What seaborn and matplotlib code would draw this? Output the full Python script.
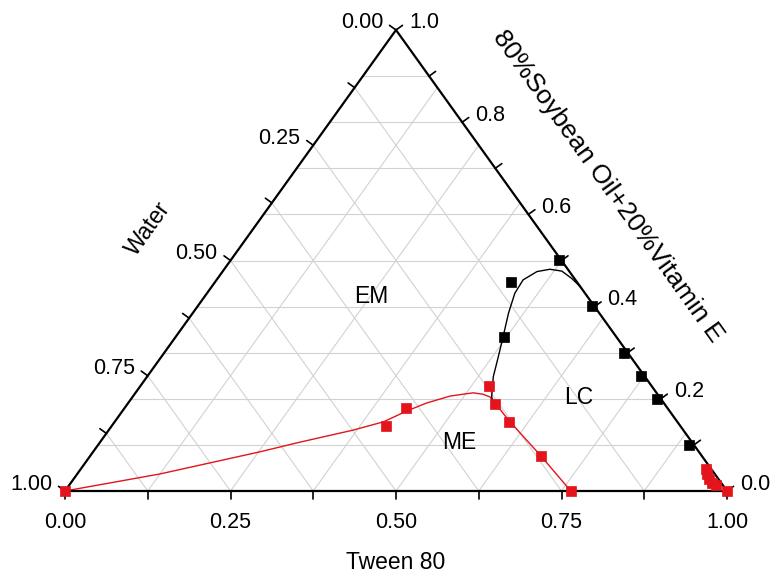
import numpy as np
import pandas as pd
import matplotlib
matplotlib.use("Agg")
import matplotlib.pyplot as plt
import seaborn as sns

# Phase-boundary compositions (mass fractions): Tween 80, oil phase, water
black_tween = [0.495, 0.595, 0.695, 0.745, 0.795, 0.893, 0.447, 0.496]
black_oil = [0.502, 0.402, 0.300, 0.250, 0.200, 0.100, 0.454, 0.333]

red_tween = [0.000, 0.415, 0.424, 0.526, 0.555, 0.596, 0.681, 0.765,
             0.944, 0.951, 0.960, 0.969, 0.977, 1.000]
red_oil = [0.000, 0.140, 0.181, 0.228, 0.188, 0.150, 0.076, 0.000,
           0.048, 0.037, 0.026, 0.017, 0.013, 0.000]

# Fitted boundary of the microemulsion (ME) region
me_curve_tween = [0.000, 0.125, 0.252, 0.302, 0.369, 0.406, 0.430, 0.451,
                  0.479, 0.510, 0.526, 0.540, 0.554, 0.595, 0.681, 0.764]
me_curve_oil = [0.000, 0.037, 0.085, 0.106, 0.132, 0.150, 0.174, 0.191,
                0.206, 0.213, 0.210, 0.204, 0.191, 0.152, 0.076, 0.000]

# Fitted boundary of the liquid-crystal (LC) region
lc_curve_tween = [0.551, 0.542, 0.523, 0.509, 0.495, 0.477, 0.465, 0.463,
                  0.475, 0.492, 0.512, 0.535, 0.557]
lc_curve_oil = [0.191, 0.205, 0.248, 0.291, 0.333, 0.386, 0.429, 0.458,
                0.476, 0.481, 0.477, 0.461, 0.443]

bottom_ticks = [0.00, 0.25, 0.50, 0.75, 1.00]
left_ticks = [0.00, 0.25, 0.50, 0.75, 1.00]
right_ticks = [0.0, 0.2, 0.4, 0.6, 0.8, 1.0]

RED = "#e3141b"
GRID = "#d2d2d2"

sns.set_style("white")
plt.rcParams["font.family"] = ["Liberation Sans", "DejaVu Sans"]
plt.rcParams["text.color"] = "black"


def to_xy(tween, oil):
    t = np.asarray(tween, dtype=float)
    o = np.asarray(oil, dtype=float)
    return t + o / 2.0, o


W_PX, H_PX = 662, 461
fig = plt.figure(figsize=(7.72, 5.79), dpi=100)
ax = fig.add_axes([65 / 772, 88 / 579, W_PX / 772, H_PX / 579])
ax.set_xlim(0, 1)
ax.set_ylim(0, 1)
ax.axis("off")

# grid: constant oil (0.1 steps), constant Tween and constant water (0.125 steps)
for k in range(1, 10):
    o = k / 10
    ax.plot([o / 2, 1 - o / 2], [o, o], color=GRID, lw=0.8, zorder=1)
for k in range(1, 8):
    v = k / 8
    ax.plot([v, v + (1 - v) / 2], [0, 1 - v], color=GRID, lw=0.8, zorder=1)
    ax.plot([1 - v, (1 - v) / 2], [0, 1 - v], color=GRID, lw=0.8, zorder=1)

# triangle frame
ax.plot([0, 1, 0.5, 0], [0, 0, 1, 0], color="black", lw=1.6,
        solid_joinstyle="miter", clip_on=False, zorder=4)

# ticks perpendicular to each side
TL = 8
nx, ny = 461 / np.hypot(461, 331), 331 / np.hypot(461, 331)
for v in np.arange(0, 1.0001, 0.125):
    ax.plot([v, v], [0, -TL / H_PX], color="black", lw=1.2, clip_on=False)
    px, py = (1 - v) / 2, 1 - v
    ax.plot([px, px - TL * nx / W_PX], [py, py + TL * ny / H_PX],
            color="black", lw=1.2, clip_on=False)
for v in np.arange(0, 1.0001, 0.1):
    px, py = 1 - v / 2, v
    ax.plot([px, px + TL * nx / W_PX], [py, py + TL * ny / H_PX],
            color="black", lw=1.2, clip_on=False)

fs_tick = 15.5
for v in bottom_ticks:
    ax.annotate(f"{v:.2f}", xy=(v, 0), xytext=(0, -21), textcoords="offset pixels",
                ha="center", va="top", fontsize=fs_tick, annotation_clip=False)
for v in left_ticks:
    ax.annotate(f"{v:.2f}", xy=((1 - v) / 2, 1 - v), xytext=(-13, 7),
                textcoords="offset pixels", ha="right", va="center",
                fontsize=fs_tick, annotation_clip=False)
for v in right_ticks:
    ax.annotate(f"{v:.1f}", xy=(1 - v / 2, v), xytext=(13, 7),
                textcoords="offset pixels", ha="left", va="center",
                fontsize=fs_tick, annotation_clip=False)

# boundary curves
x, y = to_xy(me_curve_tween, me_curve_oil)
sns.lineplot(x=x, y=y, sort=False, estimator=None, color=RED, lw=1.0, ax=ax, zorder=3)
x, y = to_xy(lc_curve_tween, lc_curve_oil)
sns.lineplot(x=x, y=y, sort=False, estimator=None, color="black", lw=1.0, ax=ax, zorder=3)

# measured points
x, y = to_xy(red_tween, red_oil)
sns.scatterplot(x=x, y=y, marker="s", s=44, color=RED, edgecolor=RED,
                linewidth=0.5, ax=ax, zorder=5, clip_on=False)
x, y = to_xy(black_tween, black_oil)
sns.scatterplot(x=x, y=y, marker="s", s=44, color="black", edgecolor="black",
                linewidth=0.5, ax=ax, zorder=5, clip_on=False)

angle = np.degrees(np.arctan2(461, 331))
fs_title = 16.5
ax.text(0.5, -0.156, "Tween 80", transform=ax.transAxes, ha="center", va="center",
        fontsize=fs_title)
ax.text(0.126, 0.568, "Water", transform=ax.transAxes, ha="center", va="center",
        rotation=angle, fontsize=fs_title, rotation_mode="anchor")
ax.text(0.820, 0.661, "80%Soybean Oil+20%Vitamin E", transform=ax.transAxes,
        ha="center", va="center", rotation=-angle, fontsize=19,
        rotation_mode="anchor")

ax.text(0.462, 0.421, "EM", transform=ax.transAxes, ha="center", va="center", fontsize=fs_title)
ax.text(0.595, 0.106, "ME", transform=ax.transAxes, ha="center", va="center", fontsize=fs_title)
ax.text(0.776, 0.202, "LC", transform=ax.transAxes, ha="center", va="center", fontsize=fs_title)

fig.savefig("out.png", dpi=100)
